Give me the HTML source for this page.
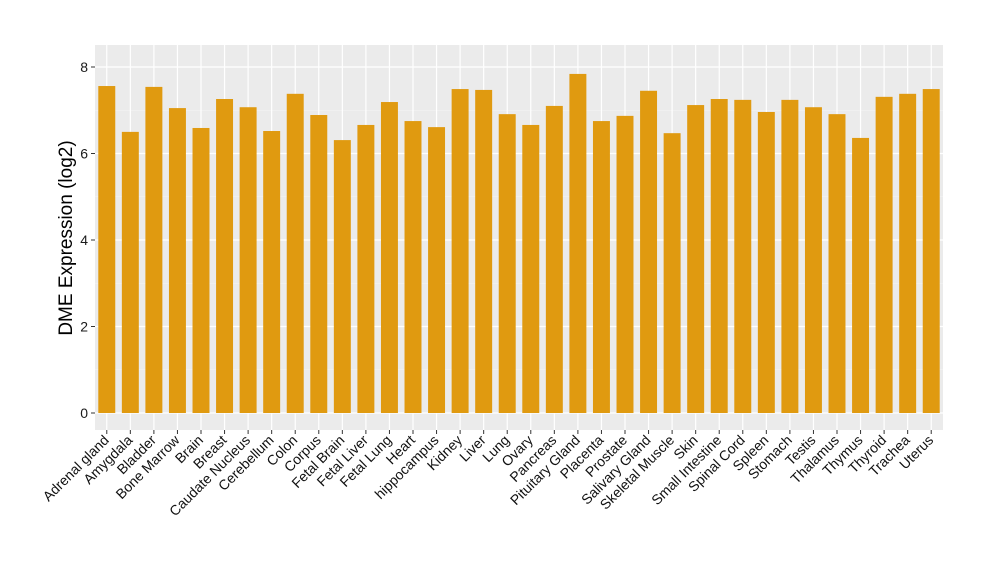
<!DOCTYPE html>
<html><head><meta charset="utf-8"><style>body{margin:0;background:#fff}svg{font-family:"Liberation Sans",sans-serif}</style></head>
<body>
<svg id="chart" width="1000" height="580">
<rect x="95" y="45" width="848" height="385" fill="#ebebeb"/>
<g id="grid"></g><g id="bars"></g><g id="yaxis"></g><g id="xaxis"></g>
<text transform="translate(72,238) rotate(-90)" text-anchor="middle" font-size="19" fill="#000">DME Expression (log2)</text>
</svg>
<script>
const categories=["Adrenal gland","Amygdala","Bladder","Bone Marrow","Brain","Breast","Caudate Nucleus","Cerebellum","Colon","Corpus","Fetal Brain","Fetal Liver","Fetal Lung","Heart","hippocampus","Kidney","Liver","Lung","Ovary","Pancreas","Pituitary Gland","Placenta","Prostate","Salivary Gland","Skeletal Muscle","Skin","Small Intestine","Spinal Cord","Spleen","Stomach","Testis","Thalamus","Thymus","Thyroid","Trachea","Uterus"];
const values=[7.56,6.50,7.54,7.05,6.59,7.26,7.07,6.52,7.38,6.89,6.31,6.66,7.19,6.75,6.61,7.49,7.47,6.91,6.66,7.10,7.84,6.75,6.87,7.45,6.47,7.12,7.26,7.24,6.96,7.24,7.07,6.91,6.36,7.31,7.38,7.49];
const yTicks=[0,2,4,6,8];
const NS="http://www.w3.org/2000/svg";
const L=95,R=943,y0=413,k=43.25;
const n=categories.length,step=(R-L)/n;
const xS=i=>L+step*(i+0.5), yS=v=>y0-v*k;
function mk(t,a,p){const e=document.createElementNS(NS,t);for(const q in a)e.setAttribute(q,a[q]);p.appendChild(e);return e;}
const grid=document.getElementById('grid'),bars=document.getElementById('bars'),ya=document.getElementById('yaxis'),xa=document.getElementById('xaxis');
for(let v=1;v<8;v+=2){const l=mk('line',{x1:L,x2:R,y1:yS(v),y2:yS(v),stroke:'#f5f5f5','stroke-width':0.6},grid);

}
yTicks.forEach(v=>{const l=mk('line',{x1:L,x2:R,y1:yS(v),y2:yS(v),stroke:'#fff','stroke-width':1.2},grid);


const t=mk('line',{x1:L-4,x2:L,y1:yS(v),y2:yS(v),stroke:'#333'},ya);


const tx=mk('text',{x:L-7,y:yS(v)+5,'text-anchor':'end','font-size':14,fill:'#1a1a1a'},ya);tx.textContent=v;

});
categories.forEach((c,i)=>{const x=xS(i);
const g=mk('line',{x1:x,x2:x,y1:45,y2:430,stroke:'#fff','stroke-width':1.2},grid);


const b=mk('rect',{x:x-step*0.36,width:step*0.72,y:yS(values[i]),height:yS(0)-yS(values[i]),fill:'#e09a10'},bars);


const t=mk('line',{x1:x,x2:x,y1:430,y2:434,stroke:'#333'},xa);


const tx=mk('text',{transform:`translate(${x+3},${441}) rotate(-45)`,'text-anchor':'end','font-size':14,fill:'#111'},xa);tx.textContent=c;

});
</script>
</body></html>
